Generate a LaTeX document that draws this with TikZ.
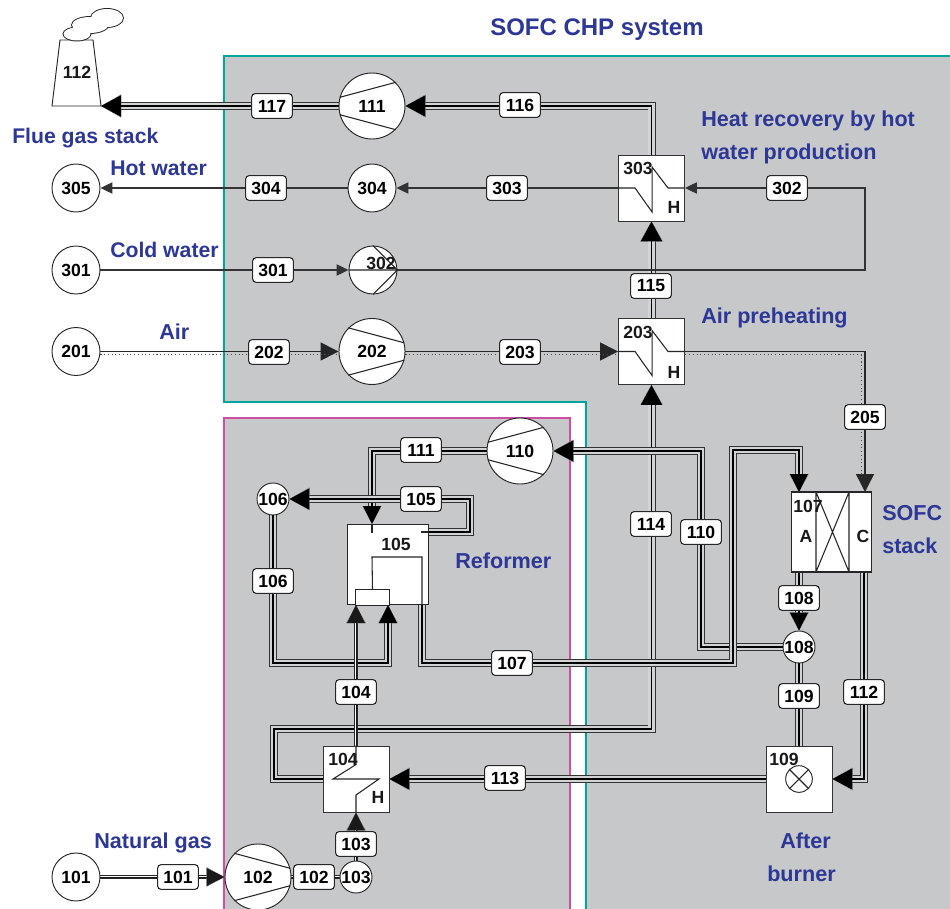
\documentclass[tikz,border=0pt]{standalone}
\usepackage{fontspec}
\setmainfont{Liberation Sans}
\usetikzlibrary{shapes.geometric, arrows.meta, calc, backgrounds}
\definecolor{plantgray}{RGB}{198, 200, 202}
\definecolor{systemteal}{RGB}{0, 165, 155}
\definecolor{reformerpink}{RGB}{205, 80, 160}
\definecolor{captionblue}{RGB}{45, 55, 150}

\begin{document}
\begin{tikzpicture}[x=0.75pt, y=-0.75pt,
    tagbox/.style={rectangle, rounded corners=2.5pt, draw=black!85, fill=white, line width=0.8pt,
                   minimum width=30.5pt, minimum height=18.5pt, inner sep=0pt, font=\bfseries\fontsize{13.2}{14}\selectfont},
    numtext/.style={inner sep=0pt, text=black!90, font=\bfseries\fontsize{13.2}{14}\selectfont},
    caption/.style={inner sep=0pt, anchor=base west, yshift=-0.5pt, text=captionblue, font=\bfseries\fontsize{#1}{18}\selectfont},
    caption/.default=16.2,
    tank/.style={circle, draw=black!85, fill=white, line width=0.7pt, minimum size=#1, inner sep=0pt,
                 font=\bfseries\fontsize{13.2}{14}\selectfont},
    tank/.default=36pt,
    hexbox/.style={rectangle, draw=black!80, fill=white, line width=0.7pt, minimum size=49.5pt, inner sep=0pt},
    inner/.style={draw=black!85, line width=0.8pt},
    water/.style={draw=black!80, line width=0.8pt},
    air/.style={draw=black!85, line width=1.1pt},
    airdots/.style={draw=black!70, dotted, line width=0.8pt},
    pipe/.style={draw=black, line width=1.1pt, preaction={draw=black!80, line width=6pt}, preaction={draw=plantgray!80, line width=4.8pt}},
    thinpipe/.style={draw=black!90, line width=0.7pt, preaction={draw=black!85, line width=3.4pt}, preaction={draw=white, line width=2pt}},
    bigtip/.style={-{Triangle[length=15pt, width=16pt]}},
    midtip/.style={-{Triangle[length=13.5pt, width=13.5pt]}},
    smalltip/.style={-{Triangle[length=9pt, width=8.5pt]}}
]
\useasboundingbox (0,0) rectangle (950,909);

% Stack
\draw[draw=black!85, fill=white, line width=0.7pt] (52,106) -- (60,40) -- (93,40) -- (101,106) -- cycle;
\node[numtext] (stack) at (77,72) {112};
\coordinate (stackfoot) at (101,106);
\path[draw=black!85, line width=1.4pt] (107,18) ellipse (16 and 9) (90,25) ellipse (18 and 8) (77,34) ellipse (13.5 and 6.5);
\path[fill=white] (107,18) ellipse (16 and 9) (90,25) ellipse (18 and 8) (77,34) ellipse (13.5 and 6.5);

% Feeds
\node[tank] (tank305) at (76,188) {305};
\node[tank] (tank301) at (76,270) {301};
\node[tank] (tank201) at (76,351.5) {201};
\node[tank] (tank101) at (76,877) {101};

% Pumps
\node[tank=49.5pt] (pump111) at (372,106) {111};
\node[tank] (pump304) at (372,188) {304};
\node[tank] (pump302) at (373,270) {};
\node[tank=49.5pt] (pump202) at (372,351.5) {202};
\node[tank=49.5pt] (pump110) at (520,451) {110};
\node[tank=49.5pt] (pump102) at (258,877) {102};

% Small junctions
\node[tank=24pt] (junction106) at (273,499) {106};
\node[tank=24pt] (junction108) at (799,647) {108};
\node[tank=24pt] (junction103) at (356,877) {103};

% Heat exchangers
\node[hexbox] (hex303) at (651.5,188) {};
\node[hexbox] (hex203) at (651.5,351.5) {};
\node[hexbox] (hex104) at (356,779) {};
\node[hexbox] (burner) at (799,779) {};
\foreach \n in {hex303,hex203}
    \draw[inner] (\n.west) -- ++(17,0) -- ++(17,24) -- ++(0,-45) -- ++(16,21) -- (\n.east);
\draw[inner] (hex104.north) -- ++(0,19) -- (333,779) -- (379,779) -- (356,795) -- (hex104.south);
\node[circle, draw=black!85, line width=0.7pt, minimum size=20pt, inner sep=0pt] (flame) at (799,779) {};
\draw[inner] (flame.45) -- (flame.225) (flame.135) -- (flame.315);

% Reformer
\node[rectangle, draw=black!85, fill=white, line width=0.8pt, minimum size=60.5pt, inner sep=0pt] (reformer) at (388,564.5) {};
\node[rectangle, draw=black!85, fill=white, line width=0.8pt, minimum width=25pt, minimum height=11.5pt, inner sep=0pt] (burnzone) at (372.5,597.5) {};
\draw[inner] (burnzone.north) -- (372,557) -- (422,557) -- (422,605);
\draw[inner] (372,524) -- (372,533) (421,532) -- (428,532);

% SOFC
\node[rectangle, draw=black!85, fill=white, line width=0.8pt, minimum width=60.5pt, minimum height=60pt, inner sep=0pt] (sofc) at (831.5,532) {};
\draw[inner] (816,492) -- (816,572) (849,492) -- (849,572) (816,572) -- (849,492) (816,492) -- (849,572);
\coordinate (anodein) at (799,492);
\coordinate (anodeout) at (799,572);
\coordinate (cathodein) at (865,492);
\coordinate (cathodeout) at (864,572);

% Pump vanes
\foreach \n in {pump111,pump110} {
    \draw[inner] (\n.165) -- (\n.45) (\n.195) -- (\n.315);
}
\foreach \n in {pump202,pump102} {
    \draw[inner] (\n.135) -- (\n.15) (\n.225) -- (\n.345);
}
\draw[inner] (pump302.90) -- (pump302.0) -- (pump302.270) (pump302.west) -- (pump302.east);

% Numbers on the units
\node[numtext] (num302) at (381,263) {302};
\node[numtext] (num303) at (638,168) {303};
\node[numtext] (num203) at (638,332) {203};
\node[numtext] (num104) at (343,759) {104};
\node[numtext] (num105) at (396,544) {105};
\node[numtext] (num107) at (808,506) {107};
\node[numtext] (num109) at (784,759) {109};
\node[numtext] (h303) at (674,207) {H};
\node[numtext] (h203) at (674,372) {H};
\node[numtext] (h104) at (378,797) {H};
\node[numtext] (anode) at (806,536) {A};
\node[numtext] (cathode) at (863,536) {C};

% Stream tags
\node[tagbox] (tag117) at (272,106) {117};
\node[tagbox] (tag116) at (520,105) {116};
\node[tagbox] (tag304) at (266,188) {304};
\node[tagbox] (tag303) at (507,188) {303};
\node[tagbox] (tag302) at (787,188) {302};
\node[tagbox] (tag301) at (273,270) {301};
\node[tagbox] (tag115) at (651,286) {115};
\node[tagbox] (tag202) at (269,352) {202};
\node[tagbox] (tag203) at (520,352) {203};
\node[tagbox] (tag205) at (865,417) {205};
\node[tagbox] (tag111) at (421,450) {111};
\node[tagbox] (tag105) at (421,499) {105};
\node[tagbox] (tag114) at (651,524) {114};
\node[tagbox] (tag110) at (701,532) {110};
\node[tagbox] (tag106) at (273,581) {106};
\node[tagbox] (tag108) at (799,598) {108};
\node[tagbox] (tag107) at (512,663) {107};
\node[tagbox] (tag104) at (356,692) {104};
\node[tagbox] (tag112) at (864,692) {112};
\node[tagbox] (tag109) at (799,696) {109};
\node[tagbox] (tag113) at (505,778) {113};
\node[tagbox] (tag103) at (356,844) {103};
\node[tagbox] (tag101) at (178,877) {101};
\node[tagbox] (tag102) at (314,877) {102};

% Captions
\node[caption=18] (title) at (490,35) {SOFC CHP system};
\node[caption=15.9] (flue) at (12,142.5) {Flue gas stack};
\node[caption=15.9] (hot) at (110,175) {Hot water};
\node[caption=15.9] (cold) at (110,257) {Cold water};
\node[caption] (airtext) at (159,339) {Air};
\node[caption] (gas) at (94,847.5) {Natural gas};
\node[caption] (heatrec) at (701,126) {Heat recovery by hot};
\node[caption] (heatrecb) at (701,159) {water production};
\node[caption] (preheat) at (701,322.5) {Air preheating};
\node[caption] (reformtext) at (455,568) {Reformer};
\node[caption] (sofca) at (882,520) {SOFC};
\node[caption] (sofcb) at (882,552.5) {stack};
\node[caption] (aftera) at (780,848) {After};
\node[caption] (afterb) at (767,881) {burner};

\begin{scope}[on background layer]
% Regions
\fill[plantgray] (224,56) -- (950,56) -- (950,909) -- (586,909) -- (586,402) -- (224,402) -- cycle;
\draw[systemteal, line width=1.4pt] (950,56) -- (224,56) -- (224,402) -- (586,402) -- (586,909);
\filldraw[fill=plantgray, draw=reformerpink, line width=1.4pt] (224,909) -- (224,418) -- (570,418) -- (570,909);

% Exhaust side
\draw[pipe, bigtip] (pump111) -- (stackfoot);
\draw[pipe, bigtip] (hex303.north) |- (pump111.east);
\draw[pipe, bigtip] (hex203.north) -- (hex303.south);
\draw[pipe, bigtip] (hex104.west) -| (274,729) -| (hex203.south);
\draw[pipe, bigtip] (burner.west) -- (hex104.east);
\draw[pipe, bigtip] (cathodeout) |- (burner.east);
\draw[pipe] (junction108.south) -- (burner.north);
\draw[pipe, midtip] (anodeout) -- (junction108.north);
\draw[pipe, bigtip] (junction108.west) -| (701,451) -- (pump110.east);

% Reformer side
\draw[pipe, midtip] (pump110.west) -| (372,524);
\draw[pipe, bigtip] (428,532) -| (470,499) -- (junction106.east);
\draw[pipe, midtip] (junction106.south) |- (388,663) -- (388,605);
\draw[pipe, midtip] (422,605) |- (733,663) |- (799,450) -- (anodein);

% Fuel
\draw[thinpipe, midtip] (tank101.east) -- (pump102.west);
\draw[thinpipe] (pump102.east) -- (junction103.west);
\draw[thinpipe, midtip] (junction103.north) -- (hex104.south);
\draw[thinpipe, midtip] (hex104.north) -- (356,605);

% Water
\draw[water, smalltip] (hex303.west) -- (pump304.east);
\draw[water, smalltip] (pump304.west) -- (tank305.east);
\draw[water, smalltip] (tank301.east) -- (pump302.west);
\draw[water, smalltip] (pump302.east) -| (865,188) -- (hex303.east);

% Air
\draw[air, midtip] (tank201.east) -- (pump202.west);
\draw[air, midtip] (pump202.east) -- (hex203.west);
\draw[air, midtip] (hex203.east) -| (cathodein);
\draw[airdots, transform canvas={yshift=-2.5pt}] (tank201.east) -- (pump202.west);
\draw[airdots, transform canvas={yshift=-2.5pt}] (pump202.east) -- (hex203.west);
\draw[airdots, transform canvas={xshift=-2.5pt, yshift=-2.5pt}] (hex203.east) -| ($(cathodein)+(0,-15)$);
\end{scope}

\end{tikzpicture}
\end{document}
